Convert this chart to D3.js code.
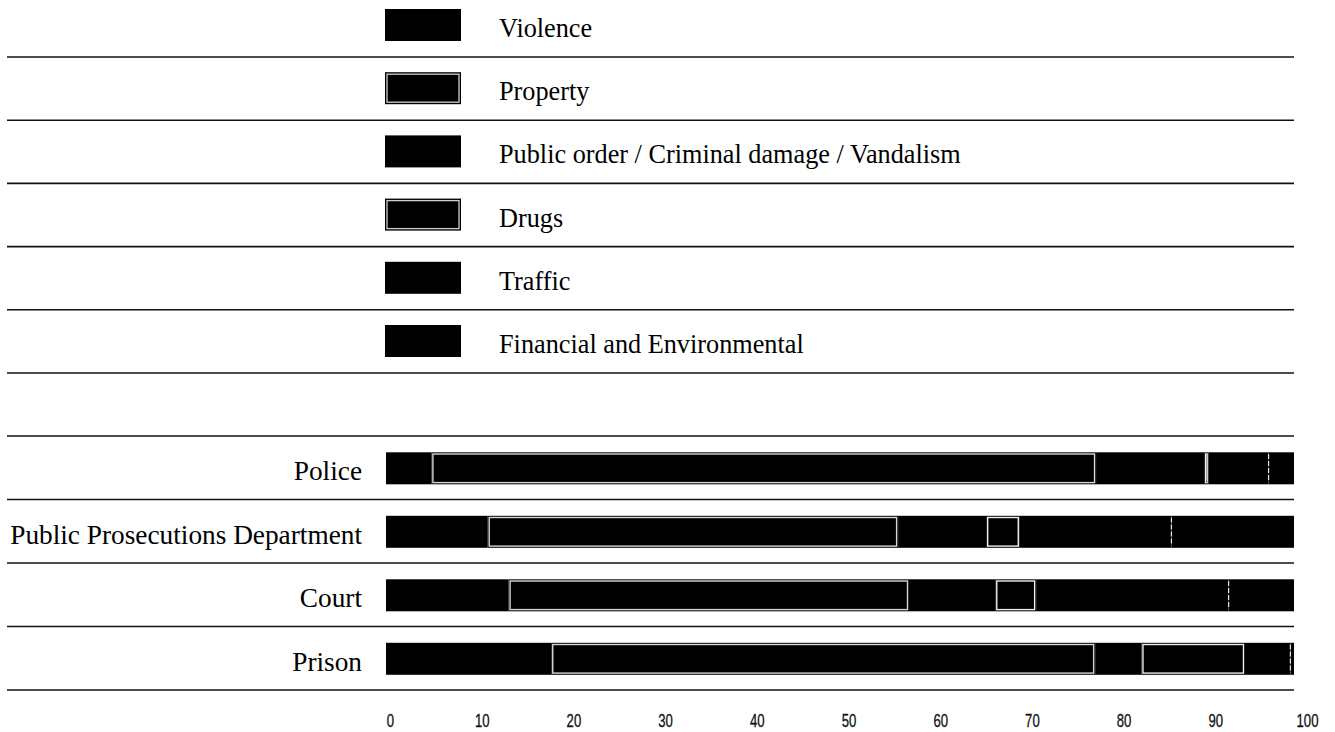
<!DOCTYPE html>
<html>
<head>
<meta charset="utf-8">
<script src="https://cdn.jsdelivr.net/npm/d3@7"></script>
<style>
  html, body { margin: 0; padding: 0; background: #fff; }
  svg { display: block; }
</style>
</head>
<body>
<svg id="chart" width="1335" height="732"></svg>
<script>
// ---- data ----
const categories = ["Violence", "Property", "Public order / Criminal damage / Vandalism", "Drugs", "Traffic", "Financial and Environmental"];
const outlined = ["Property", "Drugs"];
const stages = ["Police", "Public Prosecutions Department", "Court", "Prison"];
const violence  = [5.0, 11.2, 13.5, 18.2];
const property  = [73.2, 45.2, 44.1, 59.9];
const publicOrder = [11.9, 9.7, 9.5, 5.1];
const drugs     = [0.5, 3.7, 4.5, 11.4];
const traffic   = [6.6, 16.7, 21.2, 5.0];
const financial = [2.8, 13.5, 7.2, 0.4];
const tickValues = [0, 10, 20, 30, 40, 50, 60, 70, 80, 90, 100];

const series = [violence, property, publicOrder, drugs, traffic, financial];
const table = stages.map((s, i) => {
  const o = { stage: s };
  categories.forEach((c, k) => o[c] = series[k][i]);
  return o;
});

const svg = d3.select("#chart");
const serif = "'Liberation Serif', 'DejaVu Serif', serif";

// fit font sizes to the reference text widths
function fit(str, target) {
  const probe = svg.append("text").attr("font-family", serif).attr("font-size", 20).text(str);
  const w = probe.node().getComputedTextLength();
  probe.remove();
  return 20 * target / w;
}
const fontSize = fit("Public Prosecutions Department", 352);
const legendFontSize = fit("Public order / Criminal damage / Vandalism", 462);

const lineX0 = 7, lineX1 = 1294;

// ---- scales ----
const x = d3.scaleLinear().domain([0, 100]).range([386, 1294]);
const xAxisScale = d3.scaleLinear().domain([0, 100]).range([390, 1307]);
const yLegend = d3.scaleBand().domain(categories).range([-6.2, 373]).paddingInner(0);
const yBars = d3.scaleBand().domain(stages).range([436, 690]).paddingInner(0);

// ---- legend ----
const lg = svg.append("g");
categories.forEach(c => {
  const top = yLegend(c);
  const bw = yLegend.bandwidth();
  lg.append("rect").attr("x", 385).attr("y", top + 15.2).attr("width", 76).attr("height", 32).attr("fill", "#000");
  if (outlined.includes(c)) {
    lg.append("rect").attr("x", 387).attr("y", top + 17.2).attr("width", 72).attr("height", 28)
      .attr("fill", "none").attr("stroke", "#cfcfcf").attr("stroke-width", 1.3);
  }
  lg.append("text").attr("x", 499).attr("y", top + 43.2)
    .attr("font-family", serif).attr("font-size", legendFontSize).attr("fill", "#000").text(c);
  lg.append("line").attr("x1", lineX0).attr("x2", lineX1).attr("y1", top + bw).attr("y2", top + bw)
    .attr("stroke", "#111").attr("stroke-width", 1.6);
});

// ---- bars ----
const stack = d3.stack().keys(categories)(table);
const bh = 32;
const bg = svg.append("g");

stages.forEach(s => {
  const top = yBars(s);
  bg.append("line").attr("x1", lineX0).attr("x2", lineX1).attr("y1", top).attr("y2", top)
    .attr("stroke", "#111").attr("stroke-width", 1.6);
});
bg.append("line").attr("x1", lineX0).attr("x2", lineX1)
  .attr("y1", yBars.range()[1]).attr("y2", yBars.range()[1])
  .attr("stroke", "#111").attr("stroke-width", 1.6);

stack.forEach(layer => {
  const key = layer.key;
  const g = bg.append("g");
  g.selectAll("rect.seg").data(layer).join("rect").attr("class", "seg")
    .attr("x", d => x(d[0]))
    .attr("width", d => Math.max(0, x(d[1]) - x(d[0])))
    .attr("y", d => yBars(d.data.stage) + 16.3)
    .attr("height", bh)
    .attr("fill", "#000");
  if (outlined.includes(key)) {
    g.selectAll("rect.out").data(layer).join("rect").attr("class", "out")
      .attr("x", d => x(d[0]) + 1.5)
      .attr("width", d => Math.max(0.5, x(d[1]) - x(d[0]) - 3))
      .attr("y", d => yBars(d.data.stage) + 18)
      .attr("height", bh - 3.4)
      .attr("fill", "none").attr("stroke", key === "Drugs" ? "#eee" : "#d8d8d8").attr("stroke-width", 1.4);
  }
  if (key === "Financial and Environmental") {
    g.selectAll("line.sep").data(layer).join("line").attr("class", "sep")
      .attr("x1", d => x(d[0])).attr("x2", d => x(d[0]))
      .attr("y1", d => yBars(d.data.stage) + 18).attr("y2", d => yBars(d.data.stage) + 16.3 + bh - 2)
      .attr("stroke", "#e6e6e6").attr("stroke-width", 1.2).attr("stroke-dasharray", "5,2");
  }
});

// row labels
stages.forEach(s => {
  bg.append("text").attr("x", 362).attr("y", yBars(s) + 44).attr("text-anchor", "end")
    .attr("font-family", serif).attr("font-size", fontSize).attr("fill", "#000").text(s);
});

// ---- axis labels ----
const axis = d3.axisBottom(xAxisScale).tickValues(tickValues).tickSize(0).tickPadding(0).tickFormat(d3.format("d"));
const ag = svg.append("g").attr("transform", "translate(0,715)").call(axis);
ag.select(".domain").remove();
ag.selectAll("text")
  .attr("font-family", "'Liberation Sans', Arial, sans-serif")
  .attr("font-size", 17.5).attr("fill", "#111").attr("dy", "0.71em")
  .attr("stroke", "#111").attr("stroke-width", 0.3)
  .attr("transform", "scale(0.75,1)");
</script>
</body>
</html>
